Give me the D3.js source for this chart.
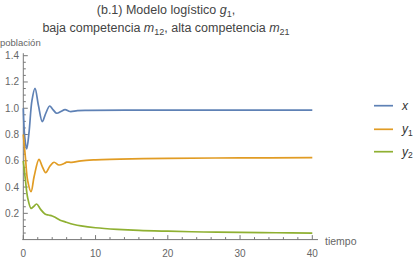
<!DOCTYPE html>
<html><head><meta charset="utf-8">
<script src="https://cdn.jsdelivr.net/npm/d3@7"></script>
<style>body{margin:0;background:#fff}svg{display:block}text{font-family:"Liberation Sans",Arial,sans-serif}</style>
</head><body>
<script>
const tX = [0,0.2,0.47,0.8,1.2,1.62,2.1,2.63,3.1,3.65,4.1,4.62,5.2,5.78,6.47,7.5,9,15,25,40];
const xVals = [1.0,0.78,0.69,0.82,1.06,1.152,1.02,0.898,0.96,1.017,0.99,0.962,0.975,0.99,0.975,0.982,0.984,0.985,0.985,0.985];
const tY1 = [0,0.3,0.6,1.07,1.5,2.17,2.6,3.1,3.7,4.25,4.94,5.7,6.0,6.7,8,10,15,20,30,40];
const y1Vals = [0.8,0.62,0.45,0.365,0.48,0.611,0.56,0.51,0.56,0.589,0.568,0.581,0.59,0.588,0.6,0.607,0.615,0.619,0.622,0.624];
const tY2 = [0,0.3,0.6,1.07,1.4,1.85,2.4,3.0,3.5,4.0,4.4,5.1,5.8,7,8,10,13,16,20,25,30,35,40];
const y2Vals = [0.6,0.45,0.32,0.238,0.25,0.271,0.23,0.195,0.187,0.18,0.17,0.148,0.135,0.115,0.104,0.09,0.078,0.07,0.064,0.058,0.055,0.052,0.05];
const series = [
  {name:"x", sub:"", t:tX, v:xVals, color:"#5E81B5"},
  {name:"y", sub:"1", t:tY1, v:y1Vals, color:"#E19C24"},
  {name:"y", sub:"2", t:tY2, v:y2Vals, color:"#8FB032"}
];
const xTicks = [0,10,20,30,40];
const yTicks = [0.2,0.4,0.6,0.8,1.0,1.2,1.4];

const W=418,H=259;
const svg=d3.select("body").append("svg").attr("width",W).attr("height",H);
const x=d3.scaleLinear().domain([0,40]).range([23.3,312.3]);
const y=d3.scaleLinear().domain([0,1.4]).range([239.6,55.7]);
const axisColor="#777", labColor="#666";

// title
const title=svg.append("text").attr("text-anchor","middle").attr("font-size",12.5).attr("fill","#444");
const l1=svg.append("text").attr("x",166).attr("y",14).attr("text-anchor","middle").attr("font-size",12.5).attr("fill","#444");
l1.append("tspan").text("(b.1) Modelo logístico ");
l1.append("tspan").attr("font-style","italic").text("g");
l1.append("tspan").attr("font-size",9).attr("dy",2.5).text("1");
l1.append("tspan").attr("dy",-2.5).text(",");
const l2=svg.append("text").attr("x",166).attr("y",32).attr("text-anchor","middle").attr("font-size",12.5).attr("fill","#444");
l2.append("tspan").text("baja competencia ");
l2.append("tspan").attr("font-style","italic").text("m");
l2.append("tspan").attr("font-size",9).attr("dy",2.5).text("12");
l2.append("tspan").attr("dy",-2.5).text(", alta competencia ");
l2.append("tspan").attr("font-style","italic").text("m");
l2.append("tspan").attr("font-size",9).attr("dy",2.5).text("21");

// axes
const g=svg.append("g");
g.append("line").attr("x1",x(0)).attr("x2",x(0)).attr("y1",y(0)).attr("y2",y(1.4)-2.5).attr("stroke",axisColor);
g.append("line").attr("x1",x(0)-1).attr("x2",318).attr("y1",y(0)).attr("y2",y(0)).attr("stroke",axisColor);
d3.range(0,41,2).forEach(t=>{
  const major=t%10===0;
  g.append("line").attr("x1",x(t)).attr("x2",x(t)).attr("y1",y(0)).attr("y2",y(0)-(major?4.5:2.5)).attr("stroke",axisColor);
});
d3.range(1,29).forEach(i=>{
  const v=i*0.05, major=i%4===0;
  g.append("line").attr("x1",x(0)).attr("x2",x(0)+(major?4.5:2.5)).attr("y1",y(v)).attr("y2",y(v)).attr("stroke",axisColor);
});
xTicks.forEach(t=>{
  g.append("text").attr("x",x(t)).attr("y",256.5).attr("text-anchor","middle").attr("font-size",10).attr("fill",labColor).text(t);
});
yTicks.forEach(v=>{
  g.append("text").attr("x",19).attr("y",y(v)+3.5).attr("text-anchor","end").attr("font-size",10).attr("fill",labColor).text(d3.format(".1f")(v));
});
svg.append("text").attr("x",0).attr("y",46).attr("font-size",9.5).attr("fill",labColor).text("población");
svg.append("text").attr("x",325).attr("y",244.5).attr("font-size",10.5).attr("fill",labColor).text("tiempo");

// lines
const line=d3.line().curve(d3.curveCatmullRom.alpha(0.5));
series.forEach(s=>{
  const pts=s.t.map((t,i)=>[x(t),y(s.v[i])]);
  svg.append("path").attr("d",line(pts)).attr("fill","none").attr("stroke",s.color).attr("stroke-width",1.7);
});

// legend
const ly=[105.7,129.3,151.7];
series.forEach((s,i)=>{
  svg.append("line").attr("x1",374).attr("x2",393).attr("y1",ly[i]).attr("y2",ly[i]).attr("stroke",s.color).attr("stroke-width",1.7);
  const t=svg.append("text").attr("x",402).attr("y",ly[i]+4).attr("font-size",12).attr("fill","#333");
  t.append("tspan").attr("font-style","italic").text(s.name);
  if(s.sub) t.append("tspan").attr("font-size",8.5).attr("dy",2.5).text(s.sub);
});
</script>
</body></html>
